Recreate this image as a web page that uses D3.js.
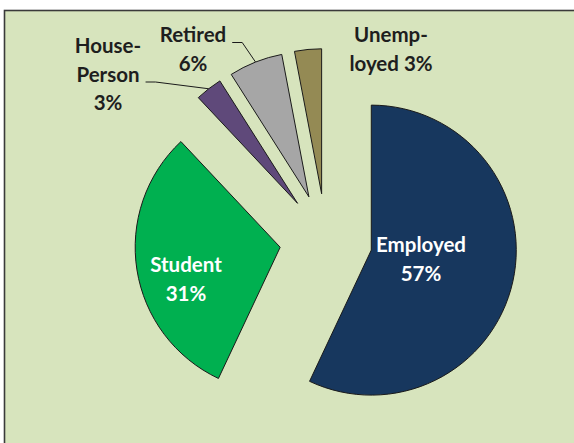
<!DOCTYPE html>
<html>
<head>
<meta charset="utf-8">
<script src="https://cdn.jsdelivr.net/npm/d3@7"></script>
<style>
  html, body { margin: 0; padding: 0; background: #ffffff; }
  svg { display: block; }
</style>
</head>
<body>
<svg id="chart" width="574" height="443"></svg>
<script>
// ---- data ----
const categories = ["Employed", "Student", "House-Person", "Retired", "Unemployed"];
const values = [57, 31, 3, 6, 3];
const labelLines = [
  ["Employed", "{p}"],
  ["Student", "{p}"],
  ["House-", "Person", "{p}"],
  ["Retired", "{p}"],
  ["Unemp-", "loyed {p}"]
];
const sliceColors = ["#17375E", "#00B050", "#5F497A", "#A6A6A6", "#948A54"];
const labelColors = ["#ffffff", "#ffffff", "#1e1e1e", "#1e1e1e", "#1e1e1e"];

// ---- layout ----
const W = 574, H = 443;
const cx = 326, cy = 240, R = 145, explode = 0.32 * R;
// label block centres (x) and first-line baselines (y), plus leader info
const labelLayout = [
  { x: 421, y: 252, leader: null },
  { x: 186, y: 272, leader: null },
  { x: 108, y: 53,  leader: 1 },
  { x: 193, y: 42,  leader: 0 },
  { x: 391, y: 42,  leader: null }
];
const lineGap = 28.5;

const svg = d3.select("#chart");

// background panel with border
svg.append("rect")
  .attr("x", 4.5).attr("y", 10.5)
  .attr("width", W + 20).attr("height", H + 20)
  .attr("fill", "#D7E4BD")
  .attr("stroke", "#3a3a3a").attr("stroke-width", 1.6);

const total = d3.sum(values);
const pct = d3.format(".0%");
const pie = d3.pie().sort(null).value(d => d)(values);
const arc = d3.arc().innerRadius(0).outerRadius(R);

const g = svg.append("g").attr("transform", `translate(${cx},${cy})`);

function offset(d) {
  const mid = (d.startAngle + d.endAngle) / 2;
  return [explode * Math.sin(mid), -explode * Math.cos(mid)];
}

g.selectAll("path.slice")
  .data(pie)
  .enter().append("path")
  .attr("class", "slice")
  .attr("transform", d => { const o = offset(d); return `translate(${o[0]},${o[1]})`; })
  .attr("d", arc)
  .attr("fill", (d, i) => sliceColors[i])
  .attr("stroke", "#1a1a1a")
  .attr("stroke-width", 1)
  .attr("stroke-linejoin", "miter");

// labels
const labelsG = svg.append("g")
  .attr("font-family", "Lato, 'Open Sans', sans-serif")
  .attr("font-weight", "bold")
  .attr("font-size", "20.5px");

pie.forEach((d, i) => {
  const lay = labelLayout[i];
  const p = pct(values[i] / total);
  const t = labelsG.append("text")
    .attr("text-anchor", "middle")
    .attr("fill", labelColors[i]);
  labelLines[i].forEach((ln, k) => {
    t.append("tspan")
      .attr("x", lay.x)
      .attr("y", lay.y + k * lineGap)
      .text(ln.replace("{p}", p));
  });
  if (lay.leader !== null) {
    const tsp = t.selectAll("tspan").nodes()[lay.leader];
    const bb = tsp.getBBox();
    const sx = bb.x + bb.width + 6;
    const sy = lay.y + lay.leader * lineGap + 0.5;
    const mid = (d.startAngle + d.endAngle) / 2;
    const o = offset(d);
    const ex = cx + o[0] + R * Math.sin(mid);
    const ey = cy + o[1] - R * Math.cos(mid);
    svg.append("path")
      .attr("d", d3.line()([[sx, sy], [sx + 10, sy], [ex, ey]]))
      .attr("fill", "none")
      .attr("stroke", "#1a1a1a")
      .attr("stroke-width", 1);
  }
});
</script>
</body>
</html>
